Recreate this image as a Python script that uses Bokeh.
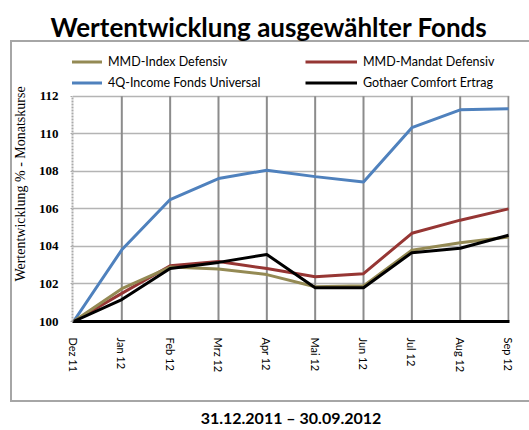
from bokeh.plotting import figure
from bokeh.models import (FixedTicker, Legend, LegendItem, ColumnDataSource, Range1d)
from bokeh.embed import file_html
from bokeh.resources import INLINE
import math

months = ["Dez 11", "Jan 12", "Feb 12", "Mrz 12", "Apr 12", "Mai 12", "Jun 12", "Jul 12", "Aug 12", "Sep 12"]
mmd_index = [100, 101.75, 102.9, 102.8, 102.5, 101.85, 101.9, 103.8, 104.2, 104.5]
mmd_mandat = [100, 101.5, 102.97, 103.2, 102.82, 102.38, 102.55, 104.7, 105.4, 106.0]
income_4q = [100, 103.82, 106.5, 107.62, 108.06, 107.72, 107.43, 110.33, 111.28, 111.34]
gothaer = [100, 101.17, 102.83, 103.15, 103.57, 101.8, 101.8, 103.67, 103.9, 104.6]
y_ticks = [100, 102, 104, 106, 108, 110, 112]

series_names = ["MMD-Index Defensiv", "MMD-Mandat Defensiv", "4Q-Income Fonds Universal", "Gothaer Comfort Ertrag"]
series_vals = [mmd_index, mmd_mandat, income_4q, gothaer]
colors = ["#948a54", "#963634", "#4f81bd", "#000000"]

W, H = 529, 430
FRAME_TOP, DATA_TOP, DATA_BOTTOM = 46, 96, 322
px_per_unit = (DATA_BOTTOM - DATA_TOP) / (y_ticks[-1] - y_ticks[0])
y_end = y_ticks[-1] + (DATA_TOP - FRAME_TOP) / px_per_unit

box = "linear-gradient(#a6a6a6,#a6a6a6)"
bg = ", ".join([
    f"{box} 10px 40px / 2px 362px no-repeat",
    f"{box} 10px 40px / 530px 2px no-repeat",
    f"{box} 10px 400px / 530px 2px no-repeat",
])
p = figure(width=W, height=H, output_backend="svg", toolbar_location=None,
           x_range=Range1d(-0.02, len(months) - 1 + 0.02), y_range=Range1d(y_ticks[0], y_end),
           min_border_left=72, min_border_right=20, min_border_top=FRAME_TOP,
           min_border_bottom=H - DATA_BOTTOM,
           title="Wertentwicklung ausgewählter Fonds", styles={"background": bg})
p.background_fill_color = "white"
p.background_fill_alpha = 0
p.border_fill_alpha = 0
p.outline_line_color = None
p.title.align = "left"
p.title.offset = -22
p.title.text_font = "Lato"
p.title.text_font_style = "bold"
p.title.text_font_size = "26px"
p.title.text_color = "black"
p.title.standoff = 8

xs = list(range(len(months)))

# vertical grid lines limited to the data area
p.segment(x0=xs[1:], x1=xs[1:], y0=[y_ticks[0]] * (len(xs) - 1), y1=[y_ticks[-1]] * (len(xs) - 1),
          line_color="#8c8c8c", line_width=2)

order = [2, 1, 0, 3]
rmap = {}
for i in order:
    src = ColumnDataSource(dict(x=xs, y=series_vals[i]))
    rmap[i] = p.line("x", "y", source=src, line_color=colors[i], line_width=3)

# axes
p.xaxis.ticker = FixedTicker(ticks=xs)
p.xaxis.major_label_overrides = {i: m for i, m in enumerate(months)}
p.xaxis.major_label_orientation = -math.pi / 2
p.xaxis.major_label_text_font = "Lato"
p.xaxis.major_label_text_font_size = "11px"
p.xaxis.major_label_text_color = "black"
p.xaxis.major_label_standoff = 10
p.xaxis.axis_line_color = "black"
p.xaxis.axis_line_width = 3
p.xaxis.major_tick_line_color = None
p.xaxis.minor_tick_line_color = None
p.xaxis.axis_label = "31.12.2011 – 30.09.2012"
p.xaxis.axis_label_text_font = "Lato"
p.xaxis.axis_label_text_font_style = "bold"
p.xaxis.axis_label_text_font_size = "16px"
p.xaxis.axis_label_text_color = "black"
p.xaxis.axis_label_standoff = 33

p.yaxis.ticker = FixedTicker(ticks=y_ticks)
p.yaxis.bounds = (y_ticks[0], y_ticks[-1])
p.yaxis.major_label_text_font = "Liberation Serif"
p.yaxis.major_label_text_font_style = "bold"
p.yaxis.major_label_text_font_size = "13px"
p.yaxis.major_label_text_color = "black"
p.yaxis.major_label_standoff = 12
p.yaxis.axis_line_color = "#aaaaaa"
p.yaxis.axis_line_dash = "2 1"
p.yaxis.axis_line_width = 2
p.yaxis.major_tick_line_color = "#aaaaaa"
p.yaxis.major_tick_out = 2
p.yaxis.major_tick_in = 0
p.yaxis.minor_tick_line_color = None
p.yaxis.axis_label = "Wertentwicklung % - Monatskurse"
p.yaxis.axis_label_text_font = "Liberation Serif"
p.yaxis.axis_label_text_font_style = "normal"
p.yaxis.axis_label_text_font_size = "14px"
p.yaxis.axis_label_text_color = "black"
p.yaxis.axis_label_standoff = 8

p.xgrid.visible = False
p.ygrid.ticker = FixedTicker(ticks=y_ticks)
p.ygrid.grid_line_color = "#b4b4b4"
p.ygrid.grid_line_width = 1.5

legend = Legend(items=[LegendItem(label=series_names[i], renderers=[rmap[i]]) for i in [0, 2, 1, 3]],
                ncols=2, location=(-22, 231.5), glyph_width=52, glyph_height=13, label_height=13,
                label_width=191, label_standoff=6, spacing=6, padding=0, margin=0,
                border_line_color=None, background_fill_alpha=0,
                label_text_font="Lato", label_text_font_size="12.5px", label_text_color="black")
p.add_layout(legend, "center")

open("out.html", "w").write(file_html(p, INLINE))
